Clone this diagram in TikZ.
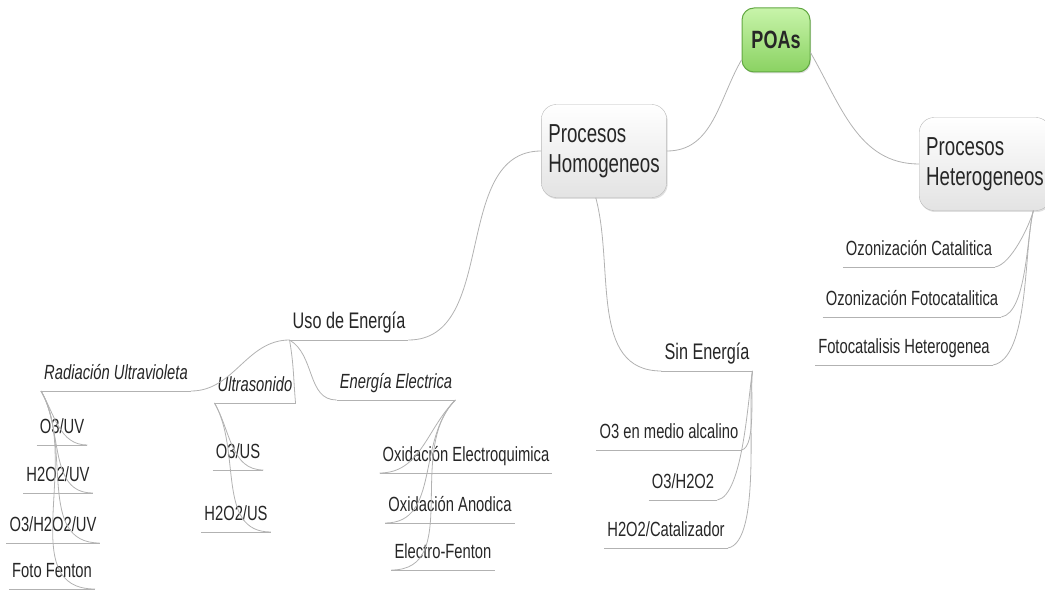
\documentclass[tikz,border=0pt]{standalone}
\usepackage{fontspec}
\setmainfont{Liberation Sans}[FakeStretch=0.72]
\usetikzlibrary{shadows}
\definecolor{lineg}{RGB}{178,178,178}
\definecolor{txt}{RGB}{38,38,38}
\definecolor{poatop}{RGB}{200,244,170}
\definecolor{poabot}{RGB}{138,210,98}
\definecolor{poaline}{RGB}{98,168,66}
\tikzset{
  conn/.style={draw=lineg, line width=0.8pt},
  root/.style={rounded corners=12pt, draw=poaline, line width=1pt, top color=poatop, bottom color=poabot,
    minimum width=68pt, minimum height=64pt, text=txt, font=\fontsize{25}{30}\selectfont\bfseries,
    drop shadow={opacity=0.25, shadow xshift=1pt, shadow yshift=-1.5pt}},
  topic/.style={rounded corners=15pt, draw=gray!55, top color=white, bottom color=gray!22,
    minimum height=93pt, align=left, inner xsep=7pt, text=txt, font=\fontsize{26}{30}\selectfont,
    drop shadow={opacity=0.25, shadow xshift=1pt, shadow yshift=-1.5pt}},
  leaf/.style={anchor=south, inner xsep=3pt, inner ysep=11pt, text depth=0pt, text=txt,
    font=\fontsize{20.5}{24}\selectfont},
  branch/.style={leaf, font=\fontsize{22.5}{26}\selectfont},
  cat/.style={leaf, font=\fontsize{20.5}{24}\selectfont\itshape},
}
\begin{document}
\begin{tikzpicture}[x=1pt,y=1pt]
\useasboundingbox (0,0) rectangle (1045,590);

% main boxes
\node[root] (poa) at (776,550) {POAs};
\node[topic, minimum width=125pt] (hom) at (604,439) {Procesos\\Homogeneos};
\node[topic, minimum width=128pt] (het) at (985,426) {Procesos\\Heterogeneos};

% second level
\node[branch] (uso) at (349,250) {Uso de Energía};
\node[branch] (sin) at (707,219) {Sin Energía};
\node[cat] (rad) at (116,199) {Radiación Ultravioleta};
\node[cat] (ult) at (255,187) {Ultrasonido};
\node[cat] (ele) at (396,190) {Energía Electrica};

% leaves
\node[leaf] (o3uv) at (62,145) {O3/UV};
\node[leaf] (h2uv) at (58,97) {H2O2/UV};
\node[leaf] (o3h2uv) at (53,47) {O3/H2O2/UV};
\node[leaf] (foto) at (52,1) {Foto Fenton};
\node[leaf] (o3us) at (238,120) {O3/US};
\node[leaf] (h2us) at (236,58) {H2O2/US};
\node[leaf] (oxe) at (466,117) {Oxidación Electroquimica};
\node[leaf] (oxa) at (450,67) {Oxidación Anodica};
\node[leaf] (elf) at (443,20) {Electro-Fenton};
\node[leaf] (o3alc) at (669,140) {O3 en medio alcalino};
\node[leaf] (o3h2) at (683,90) {O3/H2O2};
\node[leaf] (h2cat) at (666,42) {H2O2/Catalizador};
\node[leaf] (ozc) at (919,323) {Ozonización Catalitica};
\node[leaf] (ozf) at (912,273) {Ozonización Fotocatalitica};
\node[leaf] (foth) at (904,225) {Fotocatalisis Heterogenea};

% underlines
\foreach \n in {uso,sin,rad,ult,ele,o3uv,h2uv,o3h2uv,foto,o3us,h2us,oxe,oxa,elf,o3alc,o3h2,h2cat,ozc,ozf,foth}
  \draw[conn] (\n.south west) -- (\n.south east);

% connectors
\draw[conn] (poa.-150) to[out=-120,in=0] (hom.east);
\draw[conn] (poa.-20) to[out=-60,in=180] (het.west);
\draw[conn] (hom.west) to[out=180,in=0] (uso.south east);
\draw[conn] (hom.-100) to[out=-75,in=180] (sin.south west);
\draw[conn] (uso.south west) to[out=180,in=0] (rad.south east);
\draw[conn] (uso.south west) to[out=-80,in=95] (ult.south east);
\draw[conn] (uso.south west) to[out=-30,in=180] (ele.south west);
\foreach \c in {o3uv,h2uv,o3h2uv,foto}
  \draw[conn] (rad.south west) to[out=-60,in=180] (\c.south east);
\foreach \c in {o3us,h2us}
  \draw[conn] (ult.south west) to[out=-60,in=180] (\c.south east);
\foreach \c in {oxe,oxa,elf}
  \draw[conn] (ele.south east) to[out=-135,in=0] (\c.south west);
\foreach \c in {o3alc,o3h2,h2cat}
  \draw[conn] (sin.south east) to[out=-100,in=10,looseness=0.5] (\c.south east);
\foreach \c in {ozc,ozf,foth}
  \draw[conn] (het.-44) to[out=-105,in=10,looseness=0.6] (\c.south east);
\end{tikzpicture}
\end{document}
